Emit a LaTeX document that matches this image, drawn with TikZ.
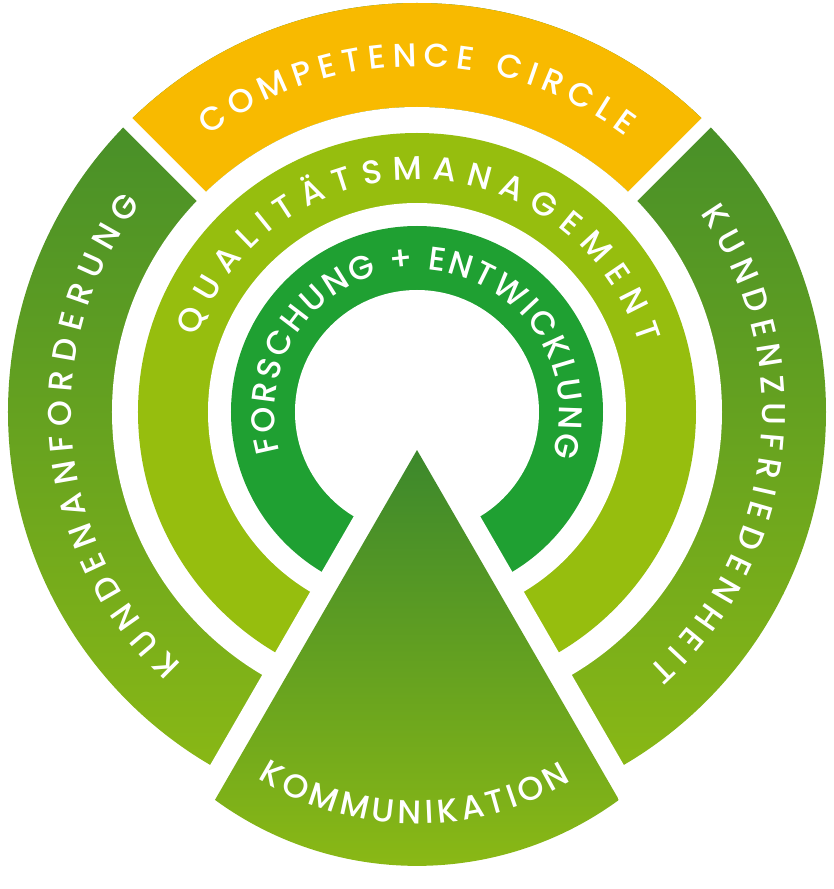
\documentclass[tikz,border=0pt]{standalone}
\usepackage{fontspec}
\setmainfont{Poppins}[UprightFont=* Medium]
\usetikzlibrary{decorations.text}
\definecolor{ccyellow}{RGB}{248,186,0}
\definecolor{ccqual}{RGB}{150,190,14}
\definecolor{ccforsch}{RGB}{31,160,50}
\definecolor{ccdark}{RGB}{60,136,44}
\definecolor{cclight}{RGB}{142,187,20}
\newcommand\ccfont{\fontsize{33}{33}\selectfont}
\begin{document}
\begin{tikzpicture}[x=1pt,y=1pt]
	\tikzstyle{gap} = [draw=white, line width=13pt];
	\tikzstyle{ringtext} = [decorate, decoration={text along path, text align={fit to path}, text color=white}];
	\useasboundingbox (-417,-477) rectangle (417,412);
	\coordinate (c) at (0,0);
	\coordinate (apex) at (0,-38);
	\coordinate (cut) at (0,5.2);
	\coordinate (kommc) at (0,-112);
	
	% aeusserer Ring
	\shade[top color=ccdark, bottom color=cclight] (c) circle[radius=409];
	\fill[ccyellow] (45:305) arc[start angle=45, end angle=135, radius=305] -- (135:409) arc[start angle=135, end angle=45, radius=409] -- cycle;
	\fill[white] (c) circle[radius=305];
	% innere Ringe
	\fill[ccqual] (c) circle[radius=279];
	\fill[white] (c) circle[radius=209];
	\fill[ccforsch] (c) circle[radius=186];
	\fill[white] (c) circle[radius=122];
	
	\draw[gap] (45:290) -- (45:425);
	\draw[gap] (135:290) -- (135:425);
	\fill[white] (cut) -- +(240:480) -- +(300:480) -- cycle;
	\shade[top color=ccdark, bottom color=cclight] (apex) -- ++(240:404) arc[start angle=233.8, end angle=306.2, radius=342] -- cycle;
	
	\path[ringtext, decoration={text={|\ccfont|COMPETENCE CIRCLE}}] (127:345.5) arc[start angle=127, end angle=53, radius=345.5];
	\path[ringtext, decoration={text={|\ccfont|KUNDENANFORDERUNG}}] (227:345.5) arc[start angle=227, end angle=143, radius=345.5];
	\path[ringtext, decoration={text={|\ccfont|KUNDENZUFRIEDENHEIT}}] (35:345.5) arc[start angle=35, end angle=-48, radius=345.5];
	\path[ringtext, decoration={text={|\ccfont|QUALITÄTSMANAGEMENT}}] (161:232.5) arc[start angle=161, end angle=17, radius=232.5];
	\path[ringtext, decoration={text={|\ccfont|FORSCHUNG + ENTWICKLUNG}}] (196:142.5) arc[start angle=196, end angle=-18, radius=142.5];
	\path[ringtext, decoration={text={|\ccfont|KOMMUNIKATION}}] (kommc) ++(238:300) arc[start angle=238, end angle=301, radius=300];
	
\end{tikzpicture}
\end{document}
